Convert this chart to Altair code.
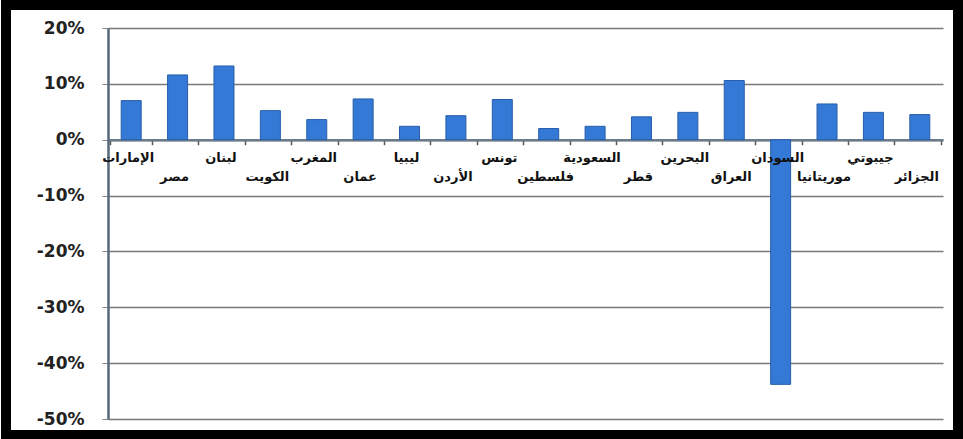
import altair as alt
import pandas as pd

countries = ["الإمارات", "مصر", "لبنان", "الكويت", "المغرب", "عمان", "ليبيا", "الأردن", "تونس",
             "فلسطين", "السعودية", "قطر", "البحرين", "العراق", "السودان", "موريتانيا", "جيبوتي", "الجزائر"]
values = [0.070, 0.116, 0.132, 0.052, 0.036, 0.073, 0.024, 0.043, 0.072,
          0.020, 0.024, 0.041, 0.049, 0.106, -0.438, 0.064, 0.049, 0.045]
y_ticks = [0.2, 0.1, 0.0, -0.1, -0.2, -0.3, -0.4, -0.5]

df = pd.DataFrame({"country": countries, "value": values})

W, H = 835, 391
FONT = "DejaVu Sans"
zero_offset = -(H * 0.5 / 0.7)

frame = alt.Chart(pd.DataFrame({"a": [0]})).mark_rect(
    filled=False, stroke="black", strokeWidth=10
).encode(
    x=alt.value(-102), x2=alt.value(W + 15),
    y=alt.value(-23), y2=alt.value(H + 16),
)

x_enc = alt.X("country:N", sort=countries, title=None,
              axis=alt.Axis(orient="bottom", offset=zero_offset, labels=False,
                            tickBand="extent", tickSize=5,
                            tickColor="#555", tickWidth=1.5, domainColor="#6b7b8c",
                            domainWidth=2.5, grid=False))
y_scale = alt.Scale(domain=[-0.5, 0.2], nice=False)

bars = alt.Chart(df).mark_bar(
    size=20, color="#3479d6", stroke="#275ea8", strokeWidth=1
).encode(
    x=x_enc,
    y=alt.Y("value:Q", title=None, scale=y_scale,
            axis=alt.Axis(values=y_ticks,
                          labelExpr="replace(format(datum.value, '.0%'), '\u2212', '-')",
                          labelFont=FONT,
                          labelFontSize=17, labelFontWeight="bold", labelColor="#222",
                          labelPadding=18, tickSize=6, tickColor="#888",
                          domainColor="#56677a", domainWidth=2.5,
                          gridColor="#7a7a7a", gridWidth=1.5)),
)


def label_layer(parity, dy):
    return alt.Chart(df).transform_window(
        idx="row_number()"
    ).transform_filter(
        f"datum.idx % 2 == {parity}"
    ).mark_text(
        align="center", baseline="middle", dx=-3, dy=dy,
        font=FONT, fontSize=13, fontWeight="bold", color="#111"
    ).encode(
        x=alt.X("country:N", sort=countries),
        y=alt.datum(0, scale=y_scale),
        text="country:N",
    )


labels_a = label_layer(1, 18)
labels_b = label_layer(0, 37)

chart = alt.layer(frame, bars, labels_a, labels_b).properties(
    width=W, height=H,
    autosize=alt.AutoSizeParams(type="none"),
    padding={"left": 108, "top": 28, "right": 20, "bottom": 20},
    background="white",
).configure_view(stroke=None)

chart.save("out.html", embed_options={"renderer": "svg", "actions": False})
